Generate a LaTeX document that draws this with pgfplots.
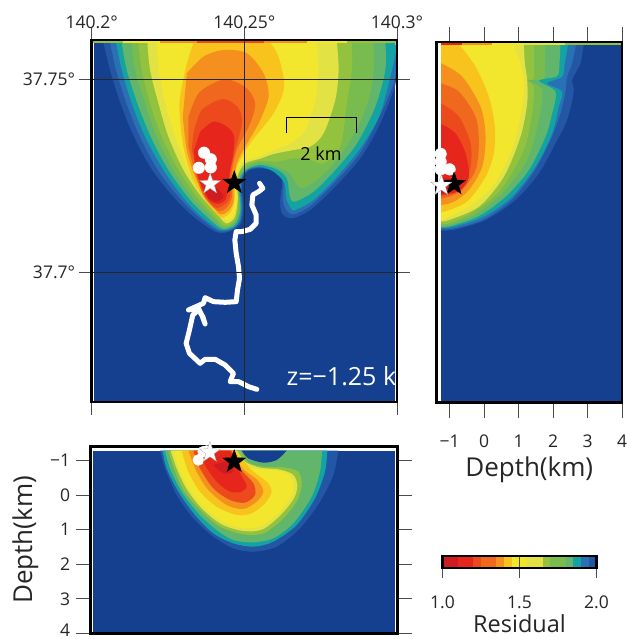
\documentclass[border=0pt]{standalone}
\usepackage{fontspec}
\setmainfont{Open Sans}
\usepackage{pgfplots}
\pgfplotsset{compat=1.18}
\definecolor{cA}{HTML}{14408F}
\definecolor{cB}{HTML}{2456A6}
\definecolor{cC}{HTML}{2A70B5}
\definecolor{cT}{HTML}{14A3A3}
\definecolor{cG3}{HTML}{62B66C}
\definecolor{cG2}{HTML}{78BB4E}
\definecolor{cG1}{HTML}{93C23F}
\definecolor{cP}{HTML}{E2E245}
\definecolor{cY}{HTML}{F3E72E}
\definecolor{cL}{HTML}{F8C31C}
\definecolor{cO}{HTML}{F5901E}
\definecolor{cM}{HTML}{EF681E}
\definecolor{cN}{HTML}{EC4A1D}
\definecolor{cR}{HTML}{E6261C}
\definecolor{cD}{HTML}{CF1C20}
\pgfdeclareplotmark{fstar}{%
  \pgfpathmoveto{\pgfpointpolar{90}{\pgfplotmarksize}}%
  \pgfpathlineto{\pgfpointpolar{126}{0.4\pgfplotmarksize}}%
  \pgfpathlineto{\pgfpointpolar{162}{\pgfplotmarksize}}%
  \pgfpathlineto{\pgfpointpolar{198}{0.4\pgfplotmarksize}}%
  \pgfpathlineto{\pgfpointpolar{234}{\pgfplotmarksize}}%
  \pgfpathlineto{\pgfpointpolar{270}{0.4\pgfplotmarksize}}%
  \pgfpathlineto{\pgfpointpolar{306}{\pgfplotmarksize}}%
  \pgfpathlineto{\pgfpointpolar{342}{0.4\pgfplotmarksize}}%
  \pgfpathlineto{\pgfpointpolar{18}{\pgfplotmarksize}}%
  \pgfpathlineto{\pgfpointpolar{54}{0.4\pgfplotmarksize}}%
  \pgfpathclose\pgfusepathqfillstroke}
\newcommand{\regA}[2]{\addplot[fill=#1,draw=none,smooth,tension=0.5,forget plot] table[row sep=\\,header=false,x expr={(\thisrowno{0}-95)/9150},y expr={0.05-(\thisrowno{1}-237)/11580}] {#2};}
\newcommand{\stripA}[3]{\addplot[fill=#1,draw=none,forget plot] table[row sep=\\,header=false,x expr={(\thisrowno{0}-95)/9150},y expr={0.05-(\thisrowno{1}-237)/11580}] {#2 118\\ #3 118\\ #3 129\\ #2 129\\};}
\newcommand{\regB}[2]{\addplot[fill=#1,draw=none,smooth,tension=0.5,forget plot] table[row sep=\\,header=false,x expr={-1+(\thisrowno{0}-72)/103.6},y expr={0.05-(\thisrowno{1}-177)/11580}] {#2};}
\newcommand{\stripB}[3]{\addplot[fill=#1,draw=none,forget plot] table[row sep=\\,header=false,x expr={-1+(\thisrowno{0}-72)/103.6},y expr={0.05-(\thisrowno{1}-177)/11580}] {#2 55\\ #3 55\\ #3 76\\ #2 76\\};}
\newcommand{\regC}[2]{\addplot[fill=#1,draw=none,smooth,tension=0.5,forget plot] table[row sep=\\,header=false,x expr={(\thisrowno{0}-272)/9200},y expr={-1+(\thisrowno{1}-77)/103.6}] {#2};}
\newcommand{\bin}[3]{\addplot[fill=#1,draw=none,forget plot] coordinates {(#2,0)(#3,0)(#3,1)(#2,1)};}
\pgfplotsset{
  panel/.style={scale only axis,axis on top,enlargelimits=false,scaled ticks=false,
    axis line style={line width=2.6pt,black},tick align=outside,
    major tick length=13pt,tick style={line width=0.9pt,black!70},
    tick label style={font=\fontsize{17.5}{20}\selectfont,black!85}},
  over/.style={scale only axis,hide axis,enlargelimits=false,clip=false}}
\begin{document}
\begin{tikzpicture}[x=1pt,y=1pt]
\useasboundingbox (0,0) rectangle (626,639);
% ---- map panel
\begin{axis}[panel,at={(91.7pt,237pt)},anchor=south west,width=305.3pt,height=362pt,
  xmin=0,xmax=0.1,ymin=-0.03368,ymax=0.0601,
  xtick={0,0.05,0.1},xticklabels={140.2°,140.25°,140.3°},xticklabel pos=upper,
  ytick={0,0.05},yticklabels={37.7°,37.75°},yticklabel pos=left,
  x tick label style={yshift=-5pt},
  grid=major,grid style={line width=0.7pt,black!85}]
\addplot[fill=cA,draw=none,forget plot] coordinates {(0.0007,-0.0337)(0.0994,-0.0337)(0.0994,0.0594)(0.0007,0.0594)};
\regA{cB}{130 128\\150 210\\178 300\\215 395\\270 500\\335 585\\400 650\\470 697\\515 692\\543 668\\550 620\\546 570\\550 530\\568 510\\600 505\\640 512\\665 540\\660 600\\665 640\\695 655\\750 630\\820 565\\900 475\\955 380\\1004 258\\1004 200\\1004 128\\}
\regA{cC}{150 128\\168 210\\196 300\\235 400\\290 505\\355 590\\415 650\\475 693\\515 688\\540 665\\547 620\\543 570\\547 530\\565 509\\600 503\\640 514\\668 542\\668 600\\678 630\\700 643\\750 618\\820 550\\895 465\\950 365\\1004 235\\1004 128\\}
\regA{cT}{168 128\\185 210\\215 310\\255 410\\310 510\\375 600\\430 655\\480 690\\518 684\\538 662\\544 620\\540 570\\545 530\\562 509\\600 500\\640 515\\672 548\\678 595\\692 625\\705 630\\760 600\\830 530\\900 445\\960 340\\1004 170\\1004 128\\}
\regA{cG3}{185 128\\200 210\\232 310\\272 410\\325 510\\388 597\\440 650\\485 686\\520 678\\536 652\\541 620\\537 570\\541 530\\560 507\\600 495\\650 508\\680 535\\688 585\\702 605\\760 575\\825 510\\890 430\\945 320\\975 210\\975 128\\}
\regA{cG2}{215 128\\225 210\\255 310\\290 410\\340 510\\400 595\\450 645\\488 682\\520 672\\534 645\\538 620\\535 570\\538 530\\558 503\\600 490\\650 500\\690 522\\720 565\\770 540\\830 480\\885 395\\925 300\\940 210\\940 128\\}
\regA{cG1}{235 128\\245 210\\270 310\\305 410\\355 510\\410 590\\455 640\\492 677\\522 665\\532 635\\535 600\\533 560\\535 525\\557 497\\600 483\\650 485\\700 475\\750 480\\790 490\\840 440\\860 310\\875 210\\875 128\\}
\regA{cP}{262 128\\270 210\\295 310\\325 410\\370 510\\420 585\\465 635\\497 670\\522 655\\530 625\\533 590\\530 550\\535 520\\555 490\\600 476\\640 462\\700 450\\750 440\\790 400\\825 300\\835 210\\830 128\\}
\regA{cY}{290 128\\296 210\\315 310\\345 410\\385 510\\430 585\\470 625\\500 662\\520 645\\527 620\\530 590\\527 550\\530 515\\550 485\\600 468\\640 450\\690 430\\735 390\\765 300\\775 210\\770 128\\}
\regA{cL}{400 128\\378 200\\358 310\\368 430\\395 530\\435 600\\480 652\\508 640\\520 618\\525 580\\525 540\\530 500\\570 430\\640 340\\672 260\\655 170\\630 128\\}
\regA{cO}{380 220\\430 170\\490 150\\560 160\\610 220\\625 290\\595 370\\555 440\\530 490\\520 560\\520 605\\505 632\\478 642\\440 590\\405 530\\380 450\\368 350\\}
\regA{cM}{385 350\\415 280\\470 245\\510 240\\560 265\\585 310\\570 370\\530 450\\515 520\\515 592\\497 625\\472 632\\432 590\\405 520\\385 440\\}
\regA{cN}{400 400\\425 330\\490 297\\535 325\\545 370\\525 450\\510 520\\510 590\\490 616\\465 622\\430 580\\410 510\\395 450\\}
\regA{cR}{420 395\\460 365\\500 380\\522 410\\518 470\\510 510\\503 570\\495 600\\472 612\\445 598\\420 550\\405 500\\402 450\\}
\regA{cD}{430 560\\470 565\\490 590\\470 605\\445 595\\}
\stripA{cG1}{95}{190}\stripA{cY}{190}{300}\stripA{cO}{300}{410}\stripA{cN}{410}{610}\stripA{cO}{610}{740}\stripA{cY}{740}{860}\stripA{cG1}{860}{1010}
\addplot[black,line width=0.9pt,forget plot] coordinates {(0.06372,0.0361)(0.06372,0.04007)(0.08656,0.04007)(0.08656,0.0361)};
\addplot[white,line width=5pt,line join=round,line cap=round,forget plot] table[row sep=\\,header=false,x expr={(\thisrowno{0}+175)/9150},y expr={0.05-(\thisrowno{1}+153)/11580}] {328 160\\338 175\\325 185\\308 195\\305 225\\318 255\\318 280\\300 298\\275 305\\258 305\\254 330\\258 370\\265 410\\268 445\\262 480\\258 515\\225 517\\190 515\\165 503\\160 520\\115 540\\145 535\\155 555\\165 582\\158 560\\145 540\\128 555\\118 600\\108 640\\118 670\\150 700\\165 688\\195 688\\225 705\\250 730\\240 755\\265 755\\295 770\\320 778\\};
\node[font=\fontsize{18}{20}\selectfont,black] at (axis cs:0.0751,0.0306) {2 km};
\node[font=\fontsize{25}{28}\selectfont,white,anchor=west,inner sep=0pt] at (axis cs:0.0638,-0.0269) {z=−1.25 k};
\end{axis}
\begin{axis}[over,at={(91.7pt,237pt)},anchor=south west,width=305.3pt,height=362pt,xmin=0,xmax=0.1,ymin=-0.03368,ymax=0.0601]
\addplot[only marks,mark=*,mark size=5.8pt,white,mark options={fill=white,draw=white}] coordinates {(0.0368,0.0309)(0.0390,0.0292)(0.0390,0.0271)(0.0351,0.0270)};
\addplot[only marks,mark=fstar,mark size=11pt,mark options={fill=white,draw=black!35,line width=0.3pt}] coordinates {(0.0388,0.0228)};
\addplot[only marks,mark=fstar,mark size=12pt,mark options={fill=black,draw=black}] coordinates {(0.0467,0.0231)};
\end{axis}
% ---- depth side panel
\begin{axis}[panel,at={(436.5pt,236.3pt)},anchor=south west,width=185.5pt,height=360.7pt,
  xmin=-1.38,xmax=4,ymin=-0.03386,ymax=0.0596,
  xtick={-1,0,1,2,3,4},xticklabels={−1,0,1,2,3,4},ytick=\empty,
  major tick length=15pt,x tick label style={yshift=-14pt},
  xlabel={Depth(km)},xlabel style={font=\fontsize{26}{28}\selectfont,black!85,yshift=-2pt}]
\addplot[fill=cA,draw=none,forget plot] coordinates {(-1.241,-0.0339)(4,-0.0339)(4,0.0591)(-1.241,0.0591)};
\regB{cB}{475 72\\465 130\\440 180\\445 215\\425 300\\390 370\\340 460\\270 540\\180 600\\90 628\\47 632\\36 632\\20 632\\20 55\\475 55\\}
\regB{cC}{452 72\\440 130\\425 170\\420 215\\405 280\\375 360\\325 455\\258 540\\175 598\\88 625\\47 628\\36 628\\20 628\\20 55\\452 55\\}
\regB{cT}{428 72\\418 130\\410 170\\365 190\\410 215\\400 260\\380 340\\330 440\\255 535\\170 592\\85 620\\47 624\\36 624\\20 624\\20 55\\428 55\\}
\regB{cG3}{405 72\\402 130\\395 168\\340 182\\390 215\\380 280\\360 350\\310 450\\240 530\\160 588\\80 617\\47 621\\36 621\\20 621\\20 55\\405 55\\}
\regB{cG2}{360 72\\358 130\\355 175\\310 182\\350 210\\340 300\\305 420\\230 520\\150 583\\80 612\\47 617\\36 617\\20 617\\20 55\\360 55\\}
\regB{cG1}{325 72\\325 130\\325 175\\305 182\\325 200\\320 280\\295 390\\225 510\\145 575\\75 608\\47 612\\36 612\\20 612\\20 55\\325 55\\}
\regB{cP}{295 72\\298 130\\305 180\\305 250\\285 350\\235 470\\160 560\\70 600\\47 604\\36 604\\20 604\\20 55\\295 55\\}
\regB{cY}{262 72\\285 130\\295 200\\285 290\\255 400\\200 500\\130 560\\60 595\\47 598\\36 598\\20 598\\20 55\\262 55\\}
\regB{cL}{100 72\\150 140\\190 230\\208 320\\205 400\\180 470\\130 540\\85 565\\47 577\\36 578\\20 578\\20 55\\100 55\\}
\regB{cO}{30 125\\47 130\\110 170\\165 260\\180 350\\170 440\\130 510\\85 545\\47 555\\30 557\\}
\regB{cM}{30 185\\47 190\\100 215\\150 290\\160 370\\150 450\\110 510\\70 530\\47 536\\30 538\\}
\regB{cN}{30 245\\47 250\\100 290\\135 370\\135 440\\115 490\\80 520\\47 528\\30 530\\}
\regB{cR}{30 308\\47 312\\90 340\\120 400\\130 470\\105 510\\70 522\\47 524\\30 525\\}
\regB{cD}{30 470\\80 480\\85 510\\47 522\\30 525\\}
\addplot[fill=white,draw=none,forget plot] coordinates {(-1.38,-0.0339)(-1.241,-0.0339)(-1.241,0.0596)(-1.38,0.0596)};
\stripB{cR}{47}{110}\stripB{cO}{110}{200}\stripB{cY}{200}{300}\stripB{cP}{300}{420}\stripB{cG1}{420}{600}
\end{axis}
\begin{axis}[over,at={(436.5pt,236.3pt)},anchor=south west,width=185.5pt,height=360.7pt,xmin=-1.38,xmax=4,ymin=-0.03386,ymax=0.0596]
\addplot[only marks,mark=*,mark size=5.8pt,white,mark options={fill=white,draw=white}] coordinates {(-1.26,0.0306)(-1.26,0.0286)(-1.26,0.0266)(-1.0,0.0266)};
\addplot[only marks,mark=fstar,mark size=12pt,mark options={fill=black,draw=black}] coordinates {(-0.87,0.0228)};
\addplot[only marks,mark=fstar,mark size=11pt,mark options={fill=white,draw=black!35,line width=0.3pt}] coordinates {(-1.24,0.0224)};
\end{axis}
% ---- section panel
\begin{axis}[panel,at={(90.7pt,5.7pt)},anchor=south west,width=306.6pt,height=186.6pt,
  xmin=0,xmax=0.1,ymin=-1.405,ymax=4,y dir=reverse,xtick=\empty,
  ytick={-1,0,1,2,3,4},yticklabels={−1,0,1,2,3,{\smash{\raisebox{-3.5pt}{4}}}},yticklabel pos=left,
  major tick length=15pt,y tick label style={xshift=-2pt},
  ylabel={Depth(km)},ylabel style={font=\fontsize{26}{28}\selectfont,black!85,yshift=5pt}]
\addplot[fill=cA,draw=none,forget plot] coordinates {(0.00087,3.95)(0.09924,3.95)(0.09924,-1.29)(0.00087,-1.29)};
\regC{cB}{480 47\\495 100\\530 180\\580 250\\640 305\\700 340\\760 350\\830 335\\900 280\\960 200\\1000 120\\1015 47\\}
\regC{cT}{487 47\\500 100\\535 170\\585 240\\640 295\\700 325\\760 335\\820 320\\890 270\\945 190\\975 110\\982 47\\}
\regC{cG3}{495 47\\510 100\\545 170\\595 235\\650 285\\700 315\\760 322\\820 310\\880 265\\935 185\\960 110\\966 47\\}
\regC{cA}{725 47\\745 70\\790 83\\830 75\\860 47\\}
\regC{cG1}{505 47\\522 100\\550 165\\600 225\\660 275\\730 298\\790 295\\845 255\\890 200\\905 150\\895 110\\850 97\\790 95\\745 82\\722 47\\}
\regC{cP}{512 47\\530 100\\560 162\\607 222\\665 268\\730 288\\788 283\\842 240\\882 190\\892 150\\878 118\\835 103\\780 98\\735 80\\712 47\\}
\regC{cY}{520 47\\540 110\\570 165\\615 220\\670 262\\730 280\\785 272\\840 230\\875 180\\880 145\\860 115\\810 105\\760 100\\720 75\\705 47\\}
\regC{cL}{545 47\\565 110\\600 170\\650 215\\710 240\\755 235\\795 205\\815 170\\800 140\\755 105\\705 47\\}
\regC{cO}{565 47\\590 110\\625 165\\680 210\\730 222\\770 200\\790 170\\772 135\\725 98\\700 47\\}
\regC{cN}{580 47\\600 100\\640 160\\690 195\\735 203\\765 180\\760 145\\720 100\\695 47\\}
\regC{cR}{600 47\\615 90\\650 140\\690 170\\725 170\\740 152\\722 118\\690 47\\}
\regC{cD}{640 90\\670 115\\700 110\\690 75\\}
\end{axis}
\begin{axis}[over,at={(90.7pt,5.7pt)},anchor=south west,width=306.6pt,height=186.6pt,xmin=0,xmax=0.1,ymin=-1.405,ymax=4,y dir=reverse]
\addplot[only marks,mark=*,mark size=5.5pt,white,mark options={fill=white,draw=white}] coordinates {(0.0351,-1.02)(0.0367,-1.26)(0.0378,-1.28)};
\addplot[only marks,mark=fstar,mark size=12pt,mark options={fill=black,draw=black}] coordinates {(0.0468,-0.97)};
\addplot[only marks,mark=fstar,mark size=11pt,mark options={fill=white,draw=black!35,line width=0.3pt}] coordinates {(0.0389,-1.24)};
\end{axis}
% ---- colour bar
\begin{axis}[panel,at={(442.5pt,71pt)},anchor=south west,width=154pt,height=12pt,
  xmin=1,xmax=2,ymin=0,ymax=1,xtick={1,1.5,2},xticklabels={1.0,1.5,2.0},ytick=\empty,
  xtick pos=lower,major tick length=10pt,xmajorgrids,grid style={line width=0.7pt,black!70},
  x tick label style={yshift=-14pt},
  xlabel={Residual},xlabel style={font=\fontsize{23.5}{26}\selectfont,black!85,yshift=1pt}]
\bin{cD}{1.00}{1.05}\bin{cD}{1.05}{1.10}\bin{cR}{1.10}{1.15}\bin{cR}{1.15}{1.20}
\bin{cN}{1.20}{1.25}\bin{cM}{1.25}{1.30}\bin{cM}{1.30}{1.35}\bin{cO}{1.35}{1.40}
\bin{cL}{1.40}{1.45}\bin{cY}{1.45}{1.50}\bin{cY}{1.50}{1.55}\bin{cP}{1.55}{1.60}
\bin{cP}{1.60}{1.65}\bin{cG1}{1.65}{1.70}\bin{cG2}{1.70}{1.75}\bin{cG2}{1.75}{1.80}
\bin{cG3}{1.80}{1.85}\bin{cT}{1.85}{1.90}\bin{cC}{1.90}{1.95}\bin{cB}{1.95}{2.00}
\end{axis}
\end{tikzpicture}
\end{document}
